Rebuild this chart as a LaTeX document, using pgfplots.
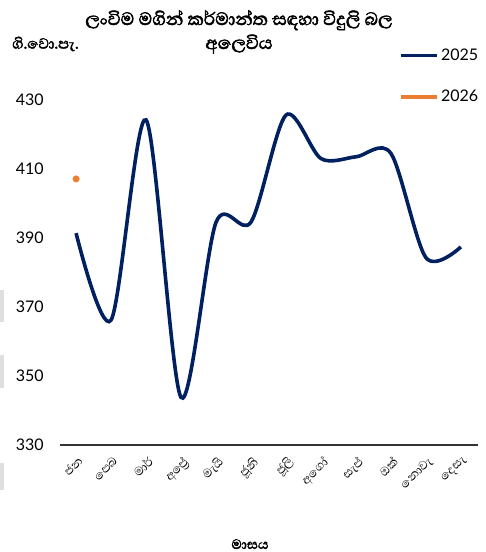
\documentclass[border=0pt]{standalone}
\usepackage{fontspec}
\usepackage{pgfplots}
\pgfplotsset{compat=1.18}
\setmainfont{Lato}
\newfontfamily\sinfont[Script=Sinhala]{Abhaya Libre}
\newfontfamily\sinbold[Script=Sinhala, FakeBold=2.2]{Abhaya Libre}
\definecolor{navyC}{RGB}{0,32,96}
\definecolor{orangeC}{RGB}{237,125,49}
\newcommand\PX[2]{({#1*0.75pt},{(552-#2)*0.75pt})}
\begin{document}
\begin{tikzpicture}
\useasboundingbox \PX{0}{552} rectangle \PX{485}{0};
% decorative page marks at left edge
\fill[gray!25] \PX{0}{322} rectangle \PX{4}{290};
\fill[gray!25] \PX{0}{388} rectangle \PX{4}{355};
\fill[gray!25] \PX{0}{490} rectangle \PX{4}{463};
\begin{axis}[
  at={(45pt,80.25pt)}, anchor=south west,
  scale only axis,
  width=313.5pt, height=264pt,
  xmin=-0.46, xmax=11.49,
  ymin=330, ymax=432,
  axis y line=none,
  axis x line*=bottom,
  x axis line style={line width=1.1pt, color=black!80, -},
  xtick={0,...,11},
  xticklabels={{ජන},{පෙබ},{මාර්},{අප්‍රේ},{මැයි},{ජූනි},{ජූලි},{අගෝ},{සැප්},{ඔක්},{නොවැ},{දෙසැ}},
  xticklabel style={font=\sinfont\fontsize{11.5}{12}\selectfont, rotate=45, anchor=north east, inner sep=0pt, yshift=-6pt, xshift=-5pt},
  major tick length=0pt,
  clip=false,
  legend style={at={(0.81,1.134)}, anchor=north west, draw=none, fill=none,
    font=\fontsize{12}{14}\selectfont, row sep=17pt, inner sep=0pt, cells={anchor=west}},
  legend image code/.code={\draw[#1] (0pt,0pt) -- (27pt,0pt);},
]
\addplot[navyC, line width=2.7pt, smooth, tension=0.5] coordinates {
 (0,391.4) (1,366.2) (2,424.2) (3,343.8) (4,394.5) (5,394.6)
 (6,425.6) (7,413.0) (8,413.5) (9,414.5) (10,384.3) (11,387.4)};
\addlegendentry{2025}
\addlegendimage{line width=2.7pt, color=orangeC}
\addlegendentry{2026}
\addplot[orangeC, only marks, mark=*, mark size=2.4pt, forget plot] coordinates {(0,407.1)};
\end{axis}
% y tick labels
\foreach \v/\yy in {430/100,410/169,390/238,370/307,350/376,330/445}
  \node[anchor=east, font=\fontsize{12}{14}\selectfont, inner sep=0pt] at \PX{44}{\yy} {\v};
\node[anchor=west, font=\sinbold\fontsize{14}{16}\selectfont, inner sep=0pt] at \PX{12}{44} {ගි.වො.පැ.};
\node[align=center, font=\sinbold\fontsize{17}{18}\selectfont, inner sep=0pt] at \PX{239}{32} {ලංවිම මගින් කර්මාන්ත සඳහා විදුලි බල\\අලෙවිය};
\node[anchor=north, font=\sinbold\fontsize{13}{14}\selectfont, inner sep=0pt] at \PX{250}{539} {මාසය};
\end{tikzpicture}
\end{document}
